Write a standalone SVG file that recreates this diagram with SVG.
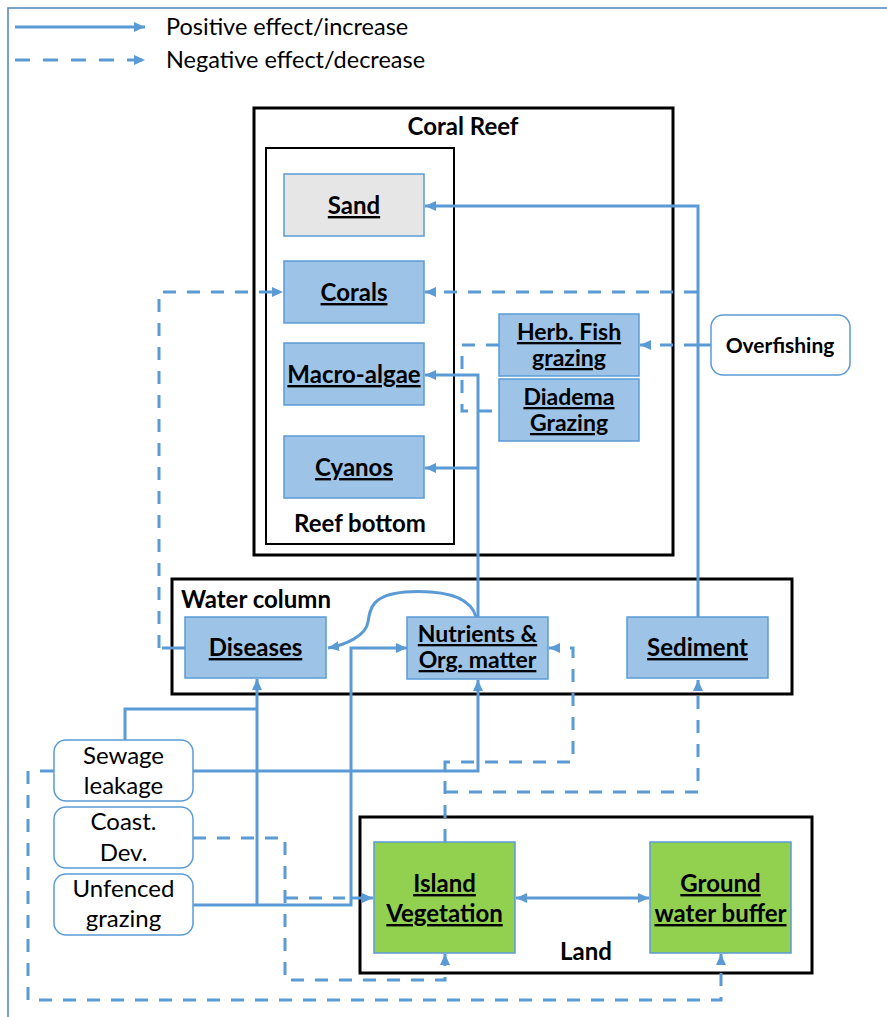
<svg xmlns="http://www.w3.org/2000/svg" width="887" height="1017" viewBox="0 0 887 1017">
<defs>
<marker id="ah" markerUnits="userSpaceOnUse" markerWidth="12" markerHeight="11" refX="11" refY="5.5" orient="auto-start-reverse"><path d="M0,0.5 L11,5.5 L0,10.5 z" fill="#5b9bd5"/></marker>
<style>
.c{fill:none;stroke:#5b9bd5;stroke-width:3}
.d{fill:none;stroke:#5b9bd5;stroke-width:3;stroke-dasharray:13 11}
.grp{fill:none;stroke:#000;stroke-width:3}
.grp2{fill:none;stroke:#000;stroke-width:2}
.n{fill:#9dc3e6;stroke:#5b9bd5;stroke-width:1.5}
.s{fill:#e7e6e6;stroke:#5b9bd5;stroke-width:1.5}
.g{fill:#92d050;stroke:#5b9bd5;stroke-width:1.5}
.w{fill:#fff;stroke:#5b9bd5;stroke-width:1.5}
text{font-family:Lato,"Liberation Sans",sans-serif;fill:#000}
.b{font-weight:bold;font-size:24px;text-anchor:middle;text-decoration:underline}
.b2{font-weight:bold;font-size:23px;text-anchor:middle;text-decoration:underline}
.t{font-size:24px;text-anchor:middle}
.h{font-weight:bold;font-size:24px}
.lg{font-size:23.5px}
</style>
</defs>
<rect width="887" height="1017" fill="#fff"/>
<path d="M8,1017 V8 H887" fill="none" stroke="#4f81bd" stroke-width="1.5"/>
<g id="legend">
<line x1="15" y1="27" x2="145" y2="27" class="c" marker-end="url(#ah)"/>
<text x="166" y="35" class="lg">Positive effect/increase</text>
<line x1="15" y1="60" x2="145" y2="60" class="d" style="stroke-dasharray:15 13" marker-end="url(#ah)"/>
<text x="166" y="68" class="lg">Negative effect/decrease</text>
</g>
<g id="coral-reef">
<rect x="254" y="108" width="419" height="447" class="grp"/>
<text x="463" y="135" class="h" text-anchor="middle">Coral Reef</text>
</g>
<g id="reef-bottom">
<rect x="266" y="148" width="188" height="396" class="grp2"/>
<text x="360" y="532" class="h" text-anchor="middle">Reef bottom</text>
</g>
<g id="water-column">
<rect x="172" y="579" width="620" height="115" class="grp"/>
<text x="181" y="608" class="h">Water column</text>
</g>
<g id="land">
<rect x="360" y="817" width="452" height="156" class="grp"/>
<text x="586" y="960" class="h" text-anchor="middle">Land</text>
</g>
<g id="connectors">
<path d="M698,617 V206 H425" class="c" marker-end="url(#ah)"/>
<line x1="711" y1="345" x2="698" y2="345" class="c"/>
<path d="M697,345 H640" class="d" marker-end="url(#ah)"/>
<path d="M697,292 H425" class="d" marker-end="url(#ah)"/>
<path d="M499,345 H462 V411 H499" class="d"/>
<path d="M478,617 V375 H425" class="c" marker-end="url(#ah)"/>
<path d="M478,468 H425" class="c" marker-end="url(#ah)"/>
<path d="M476,617 C470,595 440,590 405,592 C372,595 370,608 368,622 C366,636 345,645 328,648" class="c" marker-end="url(#ah)"/>
<line x1="185" y1="648" x2="162" y2="648" class="c"/>
<path d="M159,648 V292 H283" class="d" marker-end="url(#ah)"/>
<path d="M125,740 V709 H257" class="c"/>
<path d="M257,905 V679" class="c" marker-end="url(#ah)"/>
<path d="M193,905 H351 V648 H407" class="c" marker-end="url(#ah)"/>
<path d="M351,898 H373" class="c" marker-end="url(#ah)"/>
<path d="M193,771 H478 V680" class="c" marker-end="url(#ah)"/>
<line x1="54" y1="771" x2="40" y2="771" class="c"/>
<path d="M28,771 V1000 H721 V954" class="d" marker-end="url(#ah)"/>
<path d="M193,838 H285 V980 H445 V954" class="d" marker-end="url(#ah)"/>
<path d="M285,898 H345" class="d"/>
<path d="M445,842 V762 H573 V648 H549" class="d" marker-end="url(#ah)"/>
<path d="M445,792 H698 V680" class="d" marker-end="url(#ah)"/>
<path d="M516,898 H649" class="c" marker-start="url(#ah)" marker-end="url(#ah)"/>
</g>
<g id="sand"><rect x="284" y="174" width="140" height="62" class="s"/><text x="354" y="214" class="b">Sand</text></g>
<g id="corals"><rect x="284" y="261" width="140" height="62" class="n"/><text x="354" y="301" class="b">Corals</text></g>
<g id="macro-algae"><rect x="284" y="343" width="140" height="62" class="n"/><text x="354" y="383" class="b">Macro-algae</text></g>
<g id="cyanos"><rect x="284" y="436" width="140" height="62" class="n"/><text x="354" y="476" class="b">Cyanos</text></g>
<g id="herb-fish"><rect x="499" y="314" width="140" height="62" class="n"/><text x="569" y="340" class="b2">Herb. Fish</text><text x="569" y="366" class="b2">grazing</text></g>
<g id="diadema"><rect x="499" y="379" width="140" height="62" class="n"/><text x="569" y="405" class="b2">Diadema</text><text x="569" y="431" class="b2">Grazing</text></g>
<g id="overfishing"><rect x="711" y="315" width="139" height="60" rx="12" class="w"/><text x="780" y="353" class="h" style="font-size:21px" text-anchor="middle">Overfishing</text></g>
<g id="diseases"><rect x="185" y="617" width="141" height="61" class="n"/><text x="255.5" y="656" class="b">Diseases</text></g>
<g id="nutrients"><rect x="407" y="617" width="141" height="62" class="n"/><text x="477.5" y="642" class="b2">Nutrients &amp;</text><text x="477.5" y="668" class="b2">Org. matter</text></g>
<g id="sediment"><rect x="627" y="617" width="141" height="61" class="n"/><text x="697.5" y="656" class="b">Sediment</text></g>
<g id="sewage"><rect x="54" y="740" width="139" height="61" rx="12" class="w"/><text x="123.5" y="764" class="t">Sewage</text><text x="123.5" y="794" class="t">leakage</text></g>
<g id="coast-dev"><rect x="54" y="807" width="139" height="61" rx="12" class="w"/><text x="123.5" y="830" class="t">Coast.</text><text x="123.5" y="861" class="t">Dev.</text></g>
<g id="unfenced"><rect x="54" y="874" width="139" height="61" rx="12" class="w"/><text x="123.5" y="897" class="t">Unfenced</text><text x="123.5" y="927" class="t">grazing</text></g>
<g id="island-veg"><rect x="374" y="842" width="141" height="111" class="g"/><text x="444.5" y="892" class="b">Island</text><text x="444.5" y="922" class="b">Vegetation</text></g>
<g id="groundwater"><rect x="650" y="842" width="141" height="111" class="g"/><text x="720.5" y="892" class="b">Ground</text><text x="720.5" y="922" class="b">water buffer</text></g>
</svg>
